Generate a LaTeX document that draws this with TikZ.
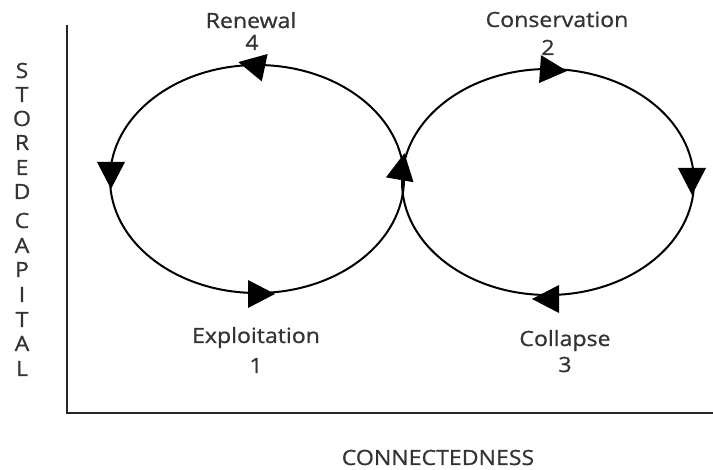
\documentclass[tikz,border=0pt]{standalone}
\usepackage{fontspec}
\setmainfont{Open Sans}[FakeStretch=1.1, FakeBold=0.8]
\definecolor{ink}{HTML}{333333}
\begin{document}
\begin{tikzpicture}[x=1pt,y=-1pt,
  lbl/.style={text=ink, font=\fontsize{21}{21}\selectfont, inner sep=0pt, anchor=base},
  axisline/.style={draw=black!85, line width=2.6pt, line join=miter},
  cycleline/.style={draw=black, line width=2pt},
  arrowtri/.pic={\fill[black] (14,0) -- (-13,14) -- (-13,-14) -- cycle;}]
\useasboundingbox (0,0) rectangle (713,470);

% axes
\coordinate (ytop) at (67,25);
\coordinate (origin) at (67,413);
\coordinate (xend) at (713,413);
\draw[axisline] (ytop) -- (origin) -- (xend);

% the two loops of the adaptive cycle
\draw[cycleline] (257,179) ellipse [x radius=147, y radius=114];
\draw[cycleline] (548,182) ellipse [x radius=146, y radius=113];

% direction of travel
\pic[rotate=168] at (252,65) {arrowtri};
\pic[rotate=-90] at (111,175) {arrowtri};
\pic[rotate=0]   at (261,294) {arrowtri};
\pic[rotate=80]  at (402,167) {arrowtri};
\pic[rotate=-4]  at (553,70)  {arrowtri};
\pic[rotate=-90] at (692,181) {arrowtri};
\pic[rotate=180] at (546,299) {arrowtri};

% phase labels
\node[lbl] (renewal) at (251,28) {Renewal};
\node[lbl] (n4) at (252,50) {4};
\node[lbl] (conservation) at (557,27) {Conservation};
\node[lbl] (n2) at (548,55) {2};
\node[lbl] (exploitation) at (256,343) {Exploitation};
\node[lbl] (n1) at (256,373) {1};
\node[lbl] (collapse) at (565,346) {Collapse};
\node[lbl] (n3) at (565,372) {3};

% axis titles
\node[lbl] (xtitle) at (438,465) {CONNECTEDNESS};
\foreach \ch/\yy [count=\i] in {S/78,T/102,O/126,R/150,E/175,D/199,C/228,A/253,P/277,I/302,T/327,A/351,L/376}
  \node[lbl] (ylet\i) at (22,\yy) {\ch};
\end{tikzpicture}
\end{document}
